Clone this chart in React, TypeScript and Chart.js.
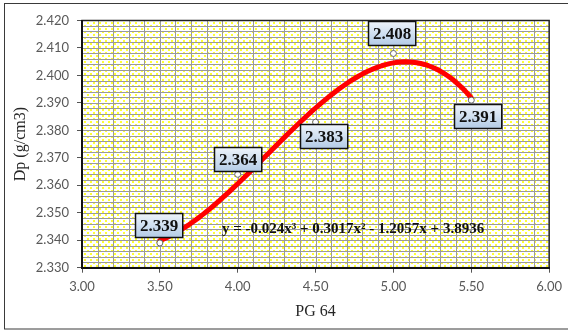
import { useEffect, useRef } from "react";
import { Chart, registerables } from "chart.js";

Chart.register(...registerables);

// ---- data ----
const pg64 = [3.5, 4.0, 4.5, 5.0, 5.5];
const dp = [2.339, 2.364, 2.383, 2.408, 2.391];
const pointLabels = ["2.339", "2.364", "2.383", "2.408", "2.391"];
const equationText = "y = -0.024x³ + 0.3017x² - 1.2057x + 3.8936";
const xTitle = "PG 64";
const yTitle = "Dp (g/cm3)";
const xMin = 3.0, xMax = 6.0, xStep = 0.5, xMinor = 0.1;
const yMin = 2.33, yMax = 2.42, yStep = 0.01, yMinor = 0.002;

// label box offsets (px) relative to each point (style only)
const labelOffsets: [number, number][] = [[-1, -18], [0, -15], [8, 14], [-2, -20], [6, 16]];

// least-squares cubic trendline (as the spreadsheet computes it from the data)
function cubicFit(xs: number[], ys: number[]): number[] {
  const n = 4;
  const A: number[][] = [];
  for (let r = 0; r < n; r++) {
    const row: number[] = [];
    for (let c = 0; c < n; c++) row.push(xs.reduce((s, x) => s + Math.pow(x, r + c), 0));
    row.push(xs.reduce((s, x, i) => s + Math.pow(x, r) * ys[i], 0));
    A.push(row);
  }
  for (let i = 0; i < n; i++) {
    let p = i;
    for (let k = i + 1; k < n; k++) if (Math.abs(A[k][i]) > Math.abs(A[p][i])) p = k;
    [A[i], A[p]] = [A[p], A[i]];
    for (let k = i + 1; k < n; k++) {
      const f = A[k][i] / A[i][i];
      for (let c = i; c <= n; c++) A[k][c] -= f * A[i][c];
    }
  }
  const coef = new Array(n).fill(0);
  for (let i = n - 1; i >= 0; i--) {
    let s = A[i][n];
    for (let c = i + 1; c < n; c++) s -= A[i][c] * coef[c];
    coef[i] = s / A[i][i];
  }
  return coef;
}

function trendPoints() {
  const coef = cubicFit(pg64, dp);
  const pts: { x: number; y: number }[] = [];
  const a = pg64[0], b = pg64[pg64.length - 1];
  const N = 80;
  for (let i = 0; i <= N; i++) {
    const x = a + ((b - a) * i) / N;
    pts.push({ x, y: coef[0] + coef[1] * x + coef[2] * x * x + coef[3] * x * x * x });
  }
  return pts;
}

function makePattern(ctx: CanvasRenderingContext2D) {
  const c = document.createElement("canvas");
  c.width = 6;
  c.height = 6;
  const g = c.getContext("2d")!;
  g.fillStyle = "#ffffff";
  g.fillRect(0, 0, 6, 6);
  g.fillStyle = "#ffff33";
  g.fillRect(0, 1, 2, 2);
  g.fillRect(3, 4, 2, 2);
  return ctx.createPattern(c, "repeat");
}

const decorPlugin = {
  id: "decor",
  beforeDraw(chart: any) {
    const { ctx, chartArea: ca, scales } = chart;
    const xs = scales.x, ys = scales.y;
    ctx.save();
    // frame
    ctx.fillStyle = "#ffffff";
    ctx.fillRect(0, 0, chart.width, chart.height);
    ctx.strokeStyle = "#3a3a3a";
    ctx.lineWidth = 1;
    ctx.strokeRect(4.5, 3.5, chart.width + 10, 325.5);
    // pattern
    const pat = makePattern(ctx);
    if (pat) {
      ctx.fillStyle = pat;
      ctx.fillRect(ca.left, ca.top, ca.right - ca.left, ca.bottom - ca.top);
    }
    // grid
    ctx.strokeStyle = "#9a9a9a";
    ctx.lineWidth = 1;
    ctx.beginPath();
    const nx = Math.round((xMax - xMin) / xMinor);
    for (let i = 1; i < nx; i++) {
      const px = Math.round(xs.getPixelForValue(xMin + i * xMinor)) + 0.5;
      ctx.moveTo(px, ca.top);
      ctx.lineTo(px, ca.bottom);
    }
    const ny = Math.round((yMax - yMin) / yMinor);
    for (let i = 1; i < ny; i++) {
      const py = Math.round(ys.getPixelForValue(yMin + i * yMinor)) + 0.5;
      ctx.moveTo(ca.left, py);
      ctx.lineTo(ca.right, py);
    }
    ctx.stroke();
    // plot border
    ctx.strokeStyle = "#222222";
    ctx.lineWidth = 1.5;
    ctx.strokeRect(ca.left, ca.top, ca.right - ca.left, ca.bottom - ca.top);
    ctx.restore();
  },
  afterDatasetsDraw(chart: any) {
    const { ctx, scales, chartArea: ca } = chart;
    const xs = scales.x, ys = scales.y;
    ctx.save();
    // equation
    ctx.fillStyle = "#111111";
    ctx.font = "bold 15px 'Liberation Serif', 'Times New Roman', serif";
    ctx.textAlign = "left";
    ctx.textBaseline = "alphabetic";
    ctx.fillText(equationText, ca.left + 140, ca.top + 212.5);
    // point labels
    ctx.font = "bold 17px 'Liberation Serif', 'Times New Roman', serif";
    ctx.textAlign = "center";
    ctx.textBaseline = "middle";
    for (let i = 0; i < pg64.length; i++) {
      const px = xs.getPixelForValue(pg64[i]);
      const py = ys.getPixelForValue(dp[i]);
      const cx = px + labelOffsets[i][0];
      const cy = py + labelOffsets[i][1];
      const w = ctx.measureText(pointLabels[i]).width + 9;
      const h = 24;
      const x0 = Math.round(cx - w / 2) + 0.5;
      const y0 = Math.round(cy - h / 2) + 0.5;
      const grad = ctx.createLinearGradient(0, y0, 0, y0 + h);
      grad.addColorStop(0, "#eef4fb");
      grad.addColorStop(1, "#b3cbe6");
      ctx.fillStyle = grad;
      ctx.fillRect(x0, y0, w, h);
      ctx.strokeStyle = "#111111";
      ctx.lineWidth = 1.5;
      ctx.strokeRect(x0, y0, w, h);
      ctx.fillStyle = "#111111";
      ctx.fillText(pointLabels[i], x0 + w / 2, y0 + h / 2 + 1);
    }
    ctx.restore();
  },
};

export default function App() {
  const ref = useRef<HTMLCanvasElement>(null);
  useEffect(() => {
    if (!ref.current) return;
    const tickFont = { family: "Lato, 'Open Sans', sans-serif", size: 13 };
    const titleFont = { family: "'Liberation Serif', 'Times New Roman', serif", size: 16 };
    const chart = new Chart(ref.current, {
      type: "scatter",
      data: {
        datasets: [
          {
            data: pg64.map((x, i) => ({ x, y: dp[i] })),
            showLine: false,
            pointRadius: 3,
            pointBackgroundColor: "#ffffff",
            pointBorderColor: "#666666",
            pointBorderWidth: 1,
          },
          {
            data: trendPoints(),
            showLine: true,
            borderColor: "#ff0000",
            borderWidth: 5,
            borderCapStyle: "round",
            borderJoinStyle: "round",
            pointRadius: 0,
            tension: 0,
          },
        ],
      } as any,
      options: {
        animation: false,
        responsive: false,
        devicePixelRatio: 1,
        layout: { padding: { left: 0, top: 20.5, right: 18, bottom: 0 } },
        plugins: { legend: { display: false }, tooltip: { enabled: false } },
        scales: {
          x: {
            type: "linear",
            min: xMin,
            max: xMax,
            afterFit: (s: any) => { s.height = 62.3; },
            ticks: {
              stepSize: xStep,
              callback: (v: any) => Number(v).toFixed(2),
              font: tickFont,
              color: "#595959",
              padding: 6,
            },
            grid: { drawOnChartArea: false, tickLength: 5, tickColor: "#555555" },
            border: { display: true, color: "#111111", width: 2 },
            title: { display: true, text: xTitle, font: titleFont, color: "#262626", padding: { top: 0, bottom: 9 } },
          },
          y: {
            type: "linear",
            min: yMin,
            max: yMax,
            afterFit: (s: any) => { s.width = 82; },
            ticks: {
              stepSize: yStep,
              callback: (v: any) => Number(v).toFixed(3),
              font: tickFont,
              color: "#595959",
              padding: 8,
            },
            grid: { drawOnChartArea: false, tickLength: 5, tickColor: "#555555" },
            border: { display: true, color: "#111111", width: 2 },
            title: { display: true, text: yTitle, font: titleFont, color: "#262626", padding: { top: 11.5, bottom: 0 } },
          },
        },
      } as any,
      plugins: [decorPlugin],
    });
    return () => chart.destroy();
  }, []);
  return (
    <div style={{ position: "fixed", left: 0, top: 0, width: 568, height: 330 }}>
      <canvas ref={ref} width={568} height={330} style={{ display: "block" }} />
    </div>
  );
}
